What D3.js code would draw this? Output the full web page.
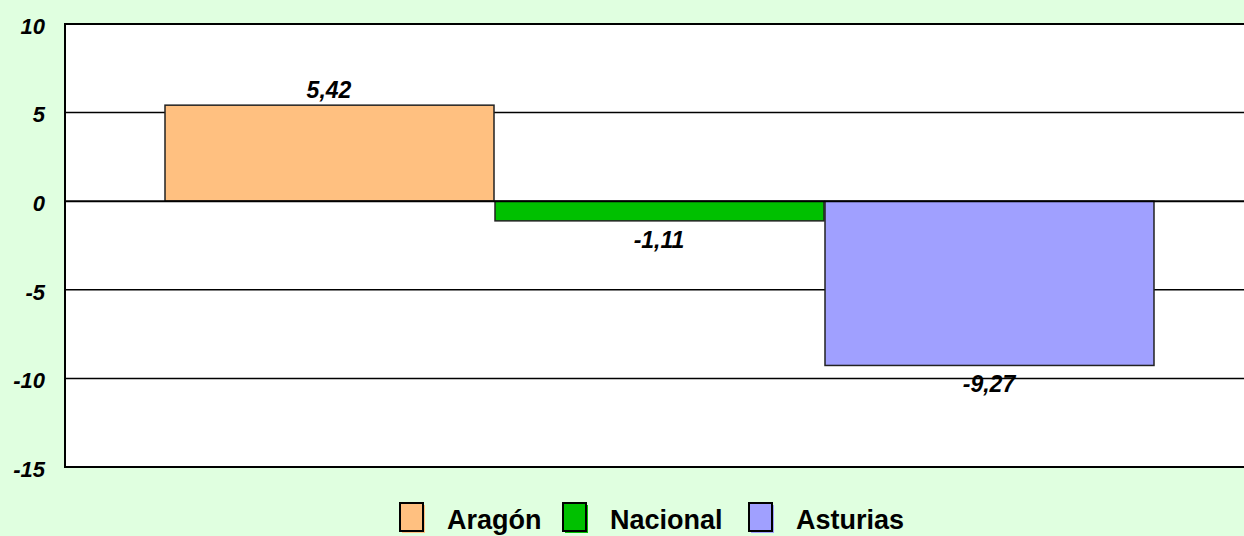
<!DOCTYPE html>
<html>
<head>
<meta charset="utf-8">
<script src="https://cdn.jsdelivr.net/npm/d3@7"></script>
<style>
  html, body { margin: 0; padding: 0; background: #e0ffe0; }
  svg { display: block; font-family: "Liberation Sans", Arial, sans-serif; }
</style>
</head>
<body>
<div id="chart-area"></div>
<script>
const categories = ["Aragón", "Nacional", "Asturias"]
const values = [5.42, -1.11, -9.27]
const colors = ["#ffc080", "#00c000", "#a0a0ff"]
const yTicks = [10, 5, 0, -5, -10, -15]

const W = 1244, H = 536
const PLOT = { LEFT: 65, RIGHT: 1253, TOP: 24, BOTTOM: 467 }

const svg = d3.select("#chart-area").append("svg")
  .attr("width", W)
  .attr("height", H)

svg.append("rect")
  .attr("width", W).attr("height", H)
  .attr("fill", "#e0ffe0")

const x = d3.scaleBand()
  .domain(categories)
  .range([PLOT.LEFT, PLOT.RIGHT])
  .paddingInner(0)
  .paddingOuter(0.3)

const y = d3.scaleLinear()
  .domain([-15, 10])
  .range([PLOT.BOTTOM, PLOT.TOP])

// plot background
svg.append("rect")
  .attr("x", PLOT.LEFT).attr("y", PLOT.TOP)
  .attr("width", PLOT.RIGHT - PLOT.LEFT)
  .attr("height", PLOT.BOTTOM - PLOT.TOP)
  .attr("fill", "#fff")

// gridlines (behind bars)
svg.append("g")
  .selectAll("line")
  .data(yTicks.filter(d => d !== 0 && d !== 10 && d !== -15))
  .join("line")
    .attr("x1", PLOT.LEFT).attr("x2", PLOT.RIGHT)
    .attr("y1", d => y(d)).attr("y2", d => y(d))
    .attr("stroke", "#000")
    .attr("stroke-width", 1.5)

// bars
const data = categories.map((c, i) => ({ cat: c, val: values[i], color: colors[i] }))

svg.append("g")
  .selectAll("rect")
  .data(data)
  .join("rect")
    .attr("x", d => x(d.cat) + 1)
    .attr("width", x.bandwidth() - 1)
    .attr("y", d => y(Math.max(0, d.val)))
    .attr("height", d => Math.abs(y(d.val) - y(0)))
    .attr("fill", d => d.color)
    .attr("stroke", "#222")
    .attr("stroke-width", 1.5)

// zero line + frame
svg.append("line")
  .attr("x1", PLOT.LEFT).attr("x2", PLOT.RIGHT)
  .attr("y1", y(0)).attr("y2", y(0))
  .attr("stroke", "#000").attr("stroke-width", 2)

svg.append("path")
  .attr("d", `M${PLOT.RIGHT},${PLOT.TOP}H${PLOT.LEFT}V${PLOT.BOTTOM}H${PLOT.RIGHT}`)
  .attr("fill", "none")
  .attr("stroke", "#000")
  .attr("stroke-width", 2)

// y axis labels
const yAxis = d3.axisLeft(y)
  .tickValues(yTicks)
  .tickSize(0)
  .tickPadding(20)
  .tickFormat(d => String(d))

const yAxisGroup = svg.append("g")
  .attr("transform", `translate(${PLOT.LEFT}, 0)`)
  .call(yAxis)
yAxisGroup.select(".domain").remove()
yAxisGroup.selectAll("text")
  .attr("dy", "0.42em")
  .style("font-size", "22px")
  .style("font-weight", "bold")
  .style("font-style", "italic")
  .attr("fill", "#000")

// value labels
svg.append("g")
  .selectAll("text")
  .data(data)
  .join("text")
    .attr("x", d => x(d.cat) + x.bandwidth() / 2)
    .attr("y", d => d.val >= 0 ? y(d.val) - 7 : y(d.val) + 27)
    .attr("text-anchor", "middle")
    .style("font-size", "23px")
    .style("font-weight", "bold")
    .style("font-style", "italic")
    .text(d => d.val.toFixed(2).replace(".", ","))

// legend
const legendPos = [400, 563, 749]
const legend = svg.append("g")
  .selectAll("g")
  .data(data)
  .join("g")
    .attr("transform", (d, i) => `translate(${legendPos[i]}, 503)`)

legend.append("rect")
  .attr("x", 2).attr("y", 2)
  .attr("width", 23).attr("height", 28)
  .attr("fill", d => d.color)
legend.append("rect")
  .attr("x", 0).attr("y", 0)
  .attr("width", 23).attr("height", 28)
  .attr("fill", d => d.color)
  .attr("stroke", "#000")
  .attr("stroke-width", 2)
legend.append("text")
  .attr("x", 47)
  .attr("y", 529)
  .attr("transform", "translate(0,-503)")
  .style("font-size", "27px")
  .style("font-weight", "bold")
  .text(d => d.cat)
</script>
</body>
</html>
